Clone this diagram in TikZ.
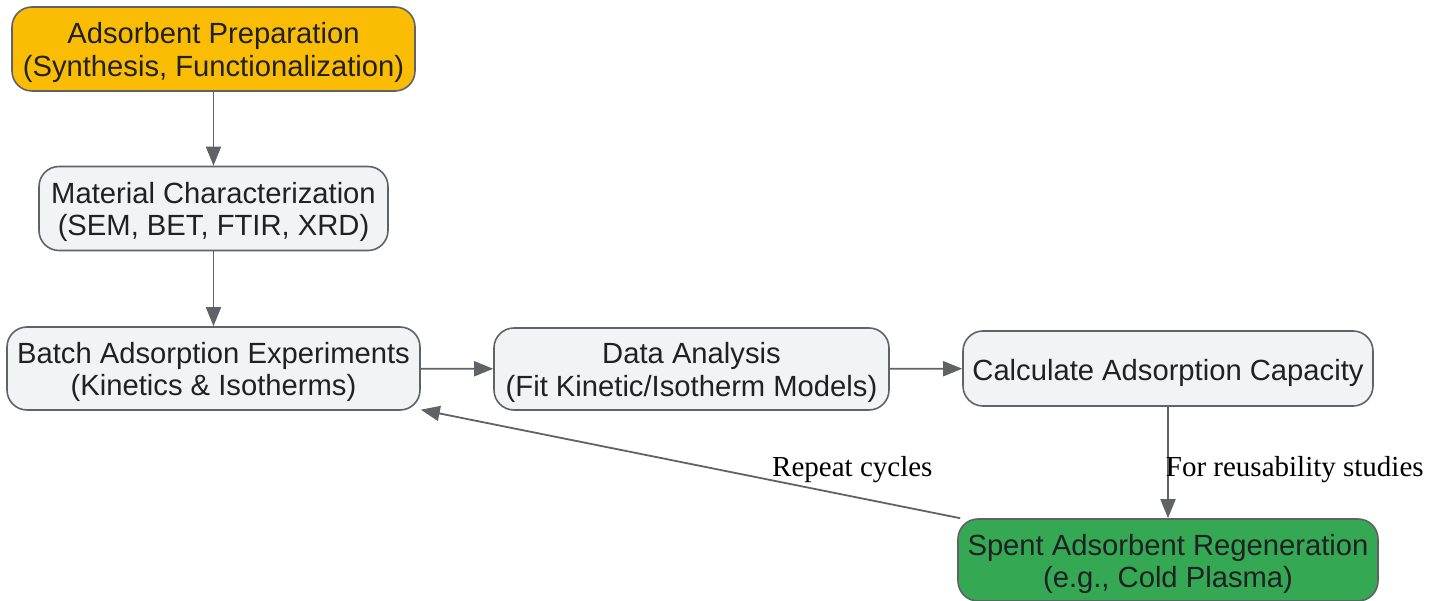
\documentclass[tikz,border=0pt]{standalone}
\usepackage{fontspec}
\setmainfont{Liberation Sans}
\newfontfamily\labelfont{Liberation Serif}
\usetikzlibrary{arrows.meta}
\definecolor{edgegray}{HTML}{5F6368}
\definecolor{boxfill}{HTML}{F1F3F4}
\definecolor{txt}{HTML}{202124}
\definecolor{prepfill}{HTML}{FBBC04}
\definecolor{regfill}{HTML}{34A853}
\tikzset{
  stepbox/.style={draw=edgegray, line width=1.6pt, rounded corners=20pt, fill=boxfill,
    text=txt, align=center, inner sep=0pt, font=\fontsize{29.2}{32.5}\selectfont,
    text height=61pt, text depth=6pt},
  onebox/.style={stepbox, text height=30pt, text depth=6pt},
  arr/.style={draw=edgegray, line width=1.8pt, -{Triangle[length=19pt,width=15pt]}},
  lab/.style={font=\labelfont\fontsize{29}{32}\selectfont, text=black, inner sep=0pt}
}
\begin{document}
\begin{tikzpicture}[x=1pt,y=-1pt]
\useasboundingbox (0,0) rectangle (1441,601);
\node[stepbox, fill=prepfill, minimum width=403pt, minimum height=84pt] (n1) at (213.5,49)
  {Adsorbent Preparation\\(Synthesis, Functionalization)};
\node[stepbox, minimum width=349pt, minimum height=84pt] (n2) at (213.5,208.5)
  {Material Characterization\\(SEM, BET, FTIR, XRD)};
\node[stepbox, minimum width=413pt, minimum height=83pt] (n3) at (213.5,368.5)
  {Batch Adsorption Experiments\\(Kinetics \& Isotherms)};
\node[stepbox, minimum width=395pt, minimum height=82pt] (n4) at (691.5,369)
  {Data Analysis\\(Fit Kinetic/Isotherm Models)};
\node[onebox, minimum width=410pt, minimum height=75pt] (n5) at (1168,368.5)
  {Calculate Adsorption Capacity};
\node[stepbox, fill=regfill, minimum width=420pt, minimum height=82pt] (n6) at (1168,560)
  {Spent Adsorbent Regeneration\\(e.g., Cold Plasma)};
\draw[arr] (n1) -- (n2);
\draw[arr] (n2) -- (n3);
\draw[arr] (n3) -- (n4);
\draw[arr] (n4) -- (n5);
\draw[arr] (n5) -- node[lab, pos=0.5, right, xshift=-3pt, yshift=-7pt] {For reusability studies} (n6);
\draw[arr] (n6) -- node[lab, pos=0.2, above=13pt] {Repeat cycles} (n3);
\end{tikzpicture}
\end{document}
